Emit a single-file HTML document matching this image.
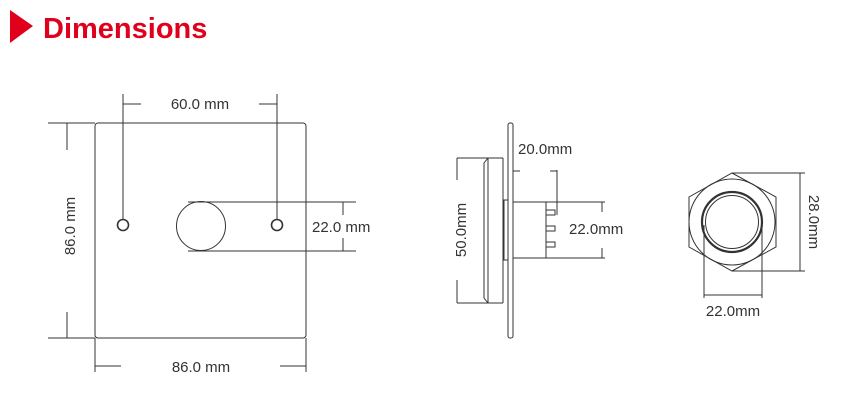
<!DOCTYPE html>
<html><head><meta charset="utf-8"><style>
html,body{margin:0;padding:0;background:#fff;width:851px;height:414px;overflow:hidden}
svg{display:block}
text{font-family:"Liberation Sans",sans-serif;fill:#333}
</style></head><body>
<svg width="851" height="414" viewBox="0 0 851 414" xmlns="http://www.w3.org/2000/svg">
<polygon points="10,10 33,26 10,43" fill="#e0001b"/>
<text x="43" y="38" style="font-size:29px;font-weight:bold;fill:#e0001b">Dimensions</text>

<g stroke="#333" stroke-width="1" fill="none">
<!-- plate front -->
<rect x="95" y="123" width="211" height="215" rx="3"/>
<circle cx="123" cy="225" r="5.5" stroke-width="1.6"/>
<circle cx="277" cy="225" r="5.5" stroke-width="1.6"/>
<circle cx="201" cy="226" r="24.5"/>
<line x1="188" y1="202" x2="356" y2="202"/>
<line x1="188" y1="251" x2="356" y2="251"/>
<line x1="343" y1="202" x2="343" y2="215"/>
<line x1="343" y1="238" x2="343" y2="251"/>
<line x1="123" y1="94" x2="123" y2="219"/>
<line x1="277" y1="94" x2="277" y2="219"/>
<line x1="123" y1="104" x2="141" y2="104"/>
<line x1="259" y1="104" x2="277" y2="104"/>
<line x1="48" y1="123" x2="95" y2="123"/>
<line x1="48" y1="338" x2="95" y2="338"/>
<line x1="67" y1="123" x2="67" y2="150"/>
<line x1="67" y1="312" x2="67" y2="338"/>
<line x1="95" y1="338" x2="95" y2="372"/>
<line x1="306" y1="338" x2="306" y2="372"/>
<line x1="95" y1="366" x2="121" y2="366"/>
<line x1="280" y1="366" x2="306" y2="366"/>

<!-- side view -->
<rect x="508" y="123" width="5" height="215" rx="2"/>
<path d="M503,158 L488,158 L484,163 L484,298 L488,303 L503,303"/>
<line x1="488" y1="158" x2="488" y2="303"/>
<line x1="503" y1="158" x2="503" y2="303"/>
<rect x="504" y="200" width="4" height="60"/>
<rect x="513" y="202" width="33" height="56"/>
<rect x="546" y="210" width="9" height="5"/>
<rect x="546" y="226" width="9" height="5"/>
<rect x="546" y="242" width="9" height="5"/>
<line x1="457" y1="158" x2="503" y2="158"/>
<line x1="457" y1="303" x2="500" y2="303"/>
<line x1="457" y1="158" x2="457" y2="180"/>
<line x1="457" y1="280" x2="457" y2="303"/>
<line x1="557" y1="170" x2="557" y2="215"/>
<line x1="513" y1="171" x2="520" y2="171"/>
<line x1="550" y1="171" x2="557" y2="171"/>
<line x1="546" y1="202" x2="605" y2="202"/>
<line x1="546" y1="258" x2="605" y2="258"/>
<line x1="602" y1="202" x2="602" y2="212"/>
<line x1="602" y1="248" x2="602" y2="258"/>

<!-- front nut view -->
<polygon points="732,173 776,197 776,247 732,271 689,247 689,197"/>
<circle cx="732" cy="222" r="43"/>
<circle cx="732" cy="222" r="30" stroke-width="2.2"/>
<circle cx="732" cy="222" r="26.5"/>
<line x1="732" y1="173" x2="805" y2="173"/>
<line x1="732" y1="271" x2="805" y2="271"/>
<line x1="800" y1="173" x2="800" y2="271"/>
<line x1="704" y1="225" x2="704" y2="298"/>
<line x1="762" y1="225" x2="762" y2="298"/>
<line x1="704" y1="295" x2="762" y2="295"/>
</g>

<g style="font-size:15px">
<text x="200" y="109" text-anchor="middle">60.0 mm</text>
<text x="312" y="232">22.0 mm</text>
<text x="201" y="372" text-anchor="middle">86.0 mm</text>
<text transform="translate(75,226) rotate(-90)" text-anchor="middle">86.0 mm</text>
<text x="518" y="154">20.0mm</text>
<text x="569" y="234">22.0mm</text>
<text transform="translate(466,230) rotate(-90)" text-anchor="middle">50.0mm</text>
<text transform="translate(809,222) rotate(90)" text-anchor="middle">28.0mm</text>
<text x="733" y="316" text-anchor="middle">22.0mm</text>
</g>
</svg>
</body></html>
